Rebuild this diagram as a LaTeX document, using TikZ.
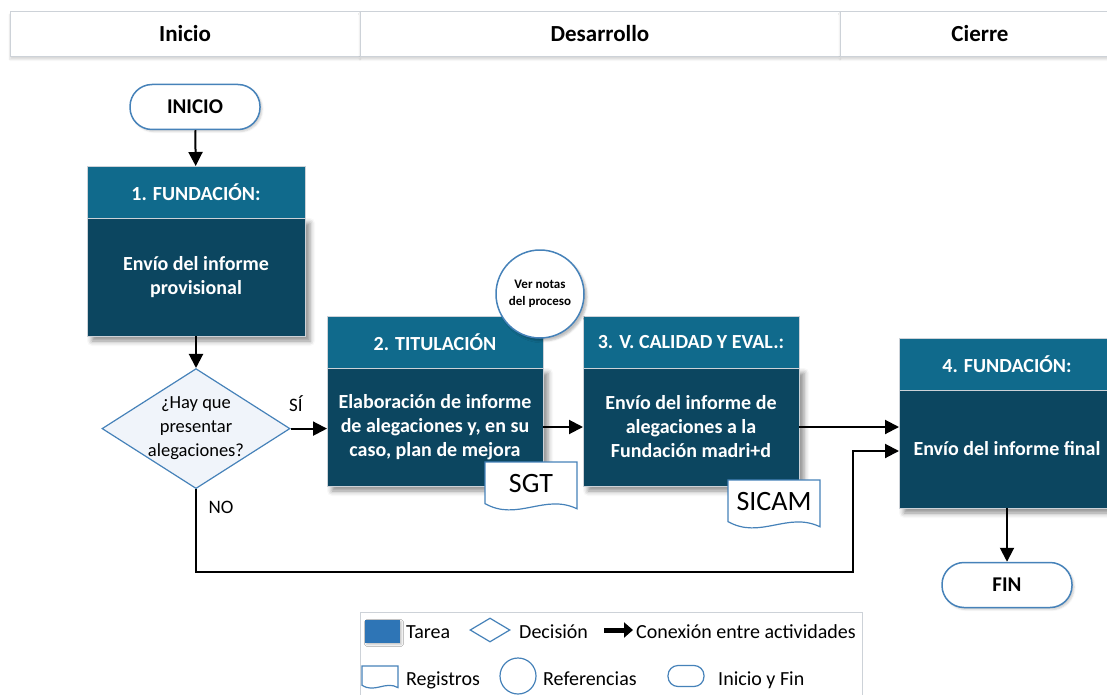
\documentclass[tikz,border=0pt]{standalone}
\usepackage{fontspec}
\setmainfont{Carlito}
\usetikzlibrary{positioning, shapes.geometric, arrows.meta, shadows.blur}

\definecolor{cabazul}{RGB}{16,106,140}
\definecolor{cuerpoazul}{RGB}{12,70,96}
\definecolor{bordeazul}{RGB}{70,130,185}
\definecolor{fondodec}{RGB}{240,244,250}
\definecolor{grisborde}{RGB}{205,210,216}
\definecolor{tareaazul}{RGB}{46,117,182}

\tikzset{
  encab/.style={rectangle, draw=grisborde, fill=white, minimum height=45pt, outer sep=0pt,
    font=\fontsize{23}{26}\selectfont\bfseries,
    blur shadow={shadow xshift=0pt, shadow yshift=-3pt, shadow opacity=15}},
  cab/.style={rectangle, fill=cabazul, draw=grisborde, text=white, minimum width=216pt,
    minimum height=52pt, outer sep=0pt, font=\fontsize{20}{24}\selectfont\bfseries},
  cuerpo/.style={rectangle, fill=cuerpoazul, draw=grisborde, text=white, minimum width=216pt,
    minimum height=118pt, outer sep=0pt, align=center, font=\fontsize{20}{24}\selectfont\bfseries,
    blur shadow={shadow xshift=5pt, shadow yshift=-5pt, shadow blur radius=5pt, shadow opacity=45}},
  terminal/.style={rectangle, rounded corners=22pt, draw=bordeazul, line width=1.5pt, fill=white,
    minimum width=130pt, minimum height=45pt, font=\fontsize{21}{24}\selectfont\bfseries,
    blur shadow={shadow xshift=2pt, shadow yshift=-2pt, shadow opacity=20}},
  decision/.style={diamond, draw=bordeazul, line width=1.2pt, fill=fondodec, minimum width=188pt,
    minimum height=120pt},
  referencia/.style={circle, draw=bordeazul, line width=1.5pt, fill=white, minimum size=88pt,
    align=center, font=\fontsize{13}{17}\selectfont\bfseries,
    blur shadow={shadow xshift=3pt, shadow yshift=-3pt, shadow opacity=25}},
  docu/.style={draw=bordeazul, line width=1.2pt, fill=white},
  doctexto/.style={font=\fontsize{28}{30}\selectfont},
  flecha/.style={line width=2pt, -{Triangle[length=14pt,width=14pt]}},
  flechaley/.style={line width=5pt, -{Triangle[length=9pt,width=15pt]}},
  etiqueta/.style={font=\fontsize{19}{22}\selectfont},
  leytexto/.style={anchor=base west, font=\fontsize{20}{22}\selectfont},
}

% registro: nombre, esquina, ancho, alto, texto
\newcommand{\registro}[5]{%
  \begin{scope}[shift={(#2)}, x=#3pt, y=-#4pt]
    \draw[docu] (0,0) -- (1,0) -- (1,0.9) .. controls (0.65,0.6) and (0.35,1.15) .. (0,0.8) -- cycle;
    \node[doctexto] (#1) at (0.5,0.42) {#5};
  \end{scope}}

\begin{document}
\begin{tikzpicture}[x=1pt, y=-1pt, every node/.style={inner sep=0pt}]
\path[use as bounding box, clip] (0,0) rectangle (1107,695);

% fases
\node[encab, minimum width=350pt] (fini) at (185,34) {Inicio};
\node[encab, minimum width=480pt, right=0pt of fini] (fdes) {Desarrollo};
\node[encab, minimum width=280pt, right=0pt of fdes] (fcie) {Cierre};

% actividades
\node[terminal] (inicio) at (195,107) {INICIO};
\node[cab, minimum width=218pt] (t1cab) at (196,192) {1. FUNDACIÓN:};
\node[cuerpo, minimum width=218pt, below=0pt of t1cab] (t1) {Envío del informe\\provisional};
\node[decision, below=32pt of t1] (dec)
  {};
\node[align=center, font=\fontsize{18.5}{24}\selectfont] (dectexto) at (dec) {¿Hay que\\presentar\\alegaciones?};

\node[cab] (t2cab) at (435,342) {2. TITULACIÓN};
\node[cuerpo, below=0pt of t2cab] (t2) {Elaboración de informe\\de alegaciones y, en su\\caso, plan de mejora};
\node[cab, right=40pt of t2cab] (t3cab) {3. V. CALIDAD Y EVAL.:};
\node[cuerpo, below=0pt of t3cab] (t3) {Envío del informe de\\alegaciones a la\\Fundación madri+d};
\node[cab] (t4cab) at (1007,364) {4. FUNDACIÓN:};
\node[cuerpo, below=0pt of t4cab] (t4) {Envío del informe final};
\node[terminal] (fin) at (1007,585) {FIN};

\node[referencia] (notas) at (540,294) {Ver notas\\del proceso};
\registro{sgt}{485,462}{92}{52}{SGT}
\registro{sicam}{728,480}{92}{52}{SICAM}

% conexiones
\coordinate (noesq) at (853,572);
\draw[flecha] (inicio) -- (t1cab);
\draw[flecha] (t1) -- (dec);
\draw[flecha] (dec.east) -- (dec.east -| t2.west);
\draw[flecha] (t2) -- (t3);
\draw[flecha] (t3.east) -- (t3.east -| t4.west);
\draw[flecha] (dec.south) |- (noesq) |- ([yshift=-2pt]t4.west);
\draw[flecha] (t4) -- (fin);
\node[etiqueta] (si) at (296,404) {SÍ};
\node[etiqueta] (no) at (221,507) {NO};

% leyenda
\draw[grisborde, fill=white] (360,612) rectangle (862,705);
\node[fill=tareaazul, minimum width=35pt, minimum height=23pt,
  blur shadow={shadow xshift=2pt, shadow yshift=-2pt, shadow opacity=25}] (ltarea) at (382,631) {};
\node[leytexto] (ttarea) at (406,638) {Tarea};
\node[diamond, draw=bordeazul, line width=1.2pt, fill=white, minimum width=40pt, minimum height=24pt] (ldec) at (490,630) {};
\node[leytexto] (tdec) at (519,638) {Decisión};
\coordinate (lfa) at (604,630);
\coordinate (lfb) at (633,630);
\draw[flechaley] (lfa) -- (lfb);
\node[leytexto] (tcon) at (636,638) {Conexión entre actividades};
\registro{lreg}{362,666}{36}{24}{}
\node[leytexto] (treg) at (406,685) {Registros};
\node[circle, draw=bordeazul, line width=1.2pt, minimum size=36pt] (lref) at (518,676) {};
\node[leytexto] (tref) at (543,685) {Referencias};
\node[rectangle, rounded corners=10pt, draw=bordeazul, line width=1.2pt, minimum width=36pt,
  minimum height=21pt] (lini) at (686,676) {};
\node[leytexto] (tini) at (718,685) {Inicio y Fin};
\end{tikzpicture}
\end{document}
